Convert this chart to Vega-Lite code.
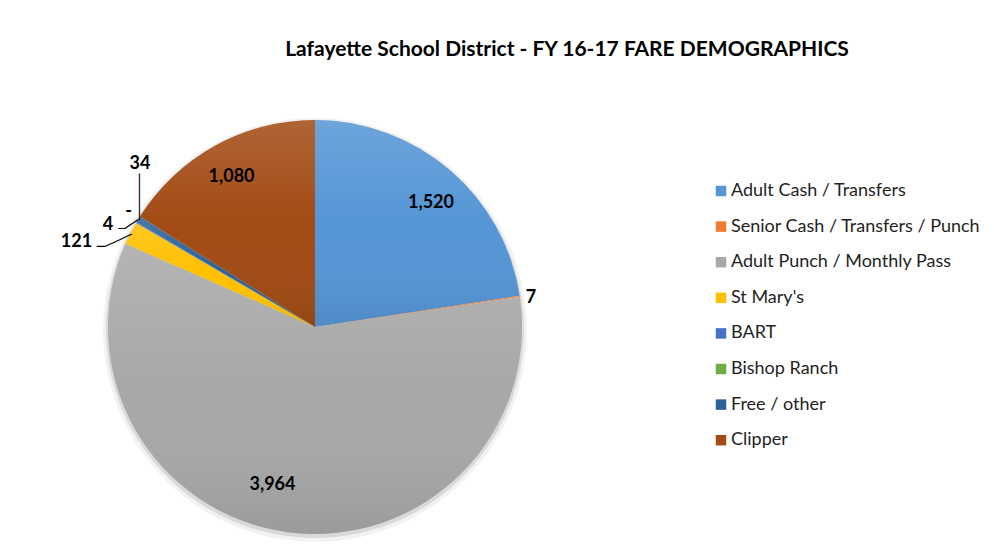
{
  "$schema": "https://vega.github.io/schema/vega-lite/v6.json",
  "width": 620,
  "height": 440,
  "autosize": {"type": "none"},
  "padding": {"left": 5, "top": 107, "right": 369, "bottom": 3},
  "background": "white",
  "title": {"text": "Lafayette School District - FY 16-17 FARE DEMOGRAPHICS", "font": "Lato", "fontSize": 21, "fontWeight": "bold", "color": "#000000", "anchor": "middle", "dx": 252, "offset": 30},
  "data": {"values": [
    {"category": "Adult Cash / Transfers", "value": 1520, "order": 1},
    {"category": "Senior Cash / Transfers / Punch", "value": 7, "order": 2},
    {"category": "Adult Punch / Monthly Pass", "value": 3964, "order": 3},
    {"category": "St Mary's", "value": 121, "order": 4},
    {"category": "BART", "value": 4, "order": 5},
    {"category": "Bishop Ranch", "value": 0, "order": 6},
    {"category": "Free / other", "value": 34, "order": 7},
    {"category": "Clipper", "value": 1080, "order": 8}
  ]},
  "encoding": {
    "theta": {"field": "value", "type": "quantitative", "stack": true},
    "order": {"field": "order", "type": "quantitative"}
  },
  "layer": [
    {"mark": {"type": "arc", "radius": 212, "color": "#000000", "opacity": 0.05, "yOffset": 3}},
    {"mark": {"type": "arc", "radius": 209, "color": "#000000", "opacity": 0.1, "yOffset": 2}},
    {"mark": {"type": "arc", "radius": 207},
     "encoding": {"color": {"field": "category", "type": "nominal",
       "scale": {"domain": ["Adult Cash / Transfers", "Senior Cash / Transfers / Punch", "Adult Punch / Monthly Pass", "St Mary's", "BART", "Bishop Ranch", "Free / other", "Clipper"],
                 "range": ["#5596D6", "#ED7D31", "#A8A8A8", "#FFC000", "#4472C4", "#70AD47", "#2A6299", "#A24B14"]},
       "legend": {"title": null, "orient": "none", "legendX": 707, "legendY": 75, "symbolType": "square", "symbolSize": 110, "symbolStrokeWidth": 0, "labelFont": "Lato", "labelFontSize": 18, "labelColor": "#1f1f1f", "rowPadding": 17.6, "labelOffset": 1, "padding": 0, "labelLimit": 400}}}},
    {"mark": {"type": "arc", "radius": 207, "color": {"gradient": "linear", "x1": 0, "y1": 0, "x2": 0, "y2": 1, "stops": [{"offset": 0, "color": "rgba(255,255,255,0.14)"}, {"offset": 0.5, "color": "rgba(255,255,255,0)"}, {"offset": 1, "color": "rgba(0,0,0,0.08)"}]}}},
    {"mark": {"type": "text", "radius": 169.8, "thetaOffset": 0.0426, "font": "Lato", "fontSize": 18, "fontWeight": "bold", "color": "#000000", "align": "center", "baseline": "middle"},
     "encoding": {"text": {"condition": {"test": "datum.order === 1", "field": "value", "type": "quantitative", "format": ","}, "value": ""}}},
    {"mark": {"type": "text", "radius": 217.9, "thetaOffset": 0.0172, "font": "Lato", "fontSize": 18, "fontWeight": "bold", "color": "#000000", "align": "center", "baseline": "middle"},
     "encoding": {"text": {"condition": {"test": "datum.order === 2", "field": "value", "type": "quantitative", "format": ","}, "value": ""}}},
    {"mark": {"type": "text", "radius": 163.6, "thetaOffset": 0.1285, "font": "Lato", "fontSize": 18, "fontWeight": "bold", "color": "#000000", "align": "center", "baseline": "middle"},
     "encoding": {"text": {"condition": {"test": "datum.order === 3", "field": "value", "type": "quantitative", "format": ","}, "value": ""}}},
    {"mark": {"type": "text", "radius": 253.4, "thetaOffset": -0.1264, "font": "Lato", "fontSize": 18, "fontWeight": "bold", "color": "#000000", "align": "center", "baseline": "middle"},
     "encoding": {"text": {"condition": {"test": "datum.order === 4", "field": "value", "type": "quantitative", "format": ","}, "value": ""}}},
    {"mark": {"type": "text", "radius": 230.8, "thetaOffset": -0.071, "font": "Lato", "fontSize": 18, "fontWeight": "bold", "color": "#000000", "align": "center", "baseline": "middle"},
     "encoding": {"text": {"condition": {"test": "datum.order === 5", "field": "value", "type": "quantitative", "format": ","}, "value": ""}}},
    {"mark": {"type": "text", "radius": 219.1, "thetaOffset": 0.0218, "font": "Lato", "fontSize": 18, "fontWeight": "bold", "color": "#000000", "align": "center", "baseline": "middle"},
     "encoding": {"text": {"condition": {"test": "datum.order === 6", "value": "-"}, "value": ""}}},
    {"mark": {"type": "text", "radius": 239.2, "thetaOffset": 0.2033, "font": "Lato", "fontSize": 18, "fontWeight": "bold", "color": "#000000", "align": "center", "baseline": "middle"},
     "encoding": {"text": {"condition": {"test": "datum.order === 7", "field": "value", "type": "quantitative", "format": ","}, "value": ""}}},
    {"mark": {"type": "text", "radius": 172.1, "thetaOffset": -0.0023, "font": "Lato", "fontSize": 18, "fontWeight": "bold", "color": "#000000", "align": "center", "baseline": "middle"},
     "encoding": {"text": {"condition": {"test": "datum.order === 8", "field": "value", "type": "quantitative", "format": ","}, "value": ""}}},
    {"mark": {"type": "text", "radius": 228.7, "thetaOffset": -0.1117, "font": "DejaVu Sans Mono", "fontSize": 13.8, "color": "#000000", "align": "center", "baseline": "middle", "angle": 0},
     "encoding": {"text": {"condition": {"test": "datum.order === 4", "value": "─"}, "value": ""}}},
    {"mark": {"type": "text", "radius": 214.8, "thetaOffset": -0.0562, "font": "DejaVu Sans Mono", "fontSize": 12.2, "color": "#000000", "align": "center", "baseline": "middle", "angle": -24.9},
     "encoding": {"text": {"condition": {"test": "datum.order === 4", "value": "────"}, "value": ""}}},
    {"mark": {"type": "text", "radius": 216.6, "thetaOffset": -0.0609, "font": "DejaVu Sans Mono", "fontSize": 11.1, "color": "#000000", "align": "center", "baseline": "middle", "angle": 0},
     "encoding": {"text": {"condition": {"test": "datum.order === 5", "value": "─"}, "value": ""}}},
    {"mark": {"type": "text", "radius": 210.0, "thetaOffset": -0.0197, "font": "DejaVu Sans Mono", "fontSize": 13.5, "color": "#000000", "align": "center", "baseline": "middle", "angle": -35},
     "encoding": {"text": {"condition": {"test": "datum.order === 5", "value": "──"}, "value": ""}}},
    {"mark": {"type": "text", "radius": 219.0, "thetaOffset": 0.0908, "font": "DejaVu Sans Mono", "fontSize": 12.9, "color": "#000000", "align": "center", "baseline": "middle", "angle": 90},
     "encoding": {"text": {"condition": {"test": "datum.order === 7", "value": "──────"}, "value": ""}}}
  ],
  "config": {"view": {"stroke": null}}
}
